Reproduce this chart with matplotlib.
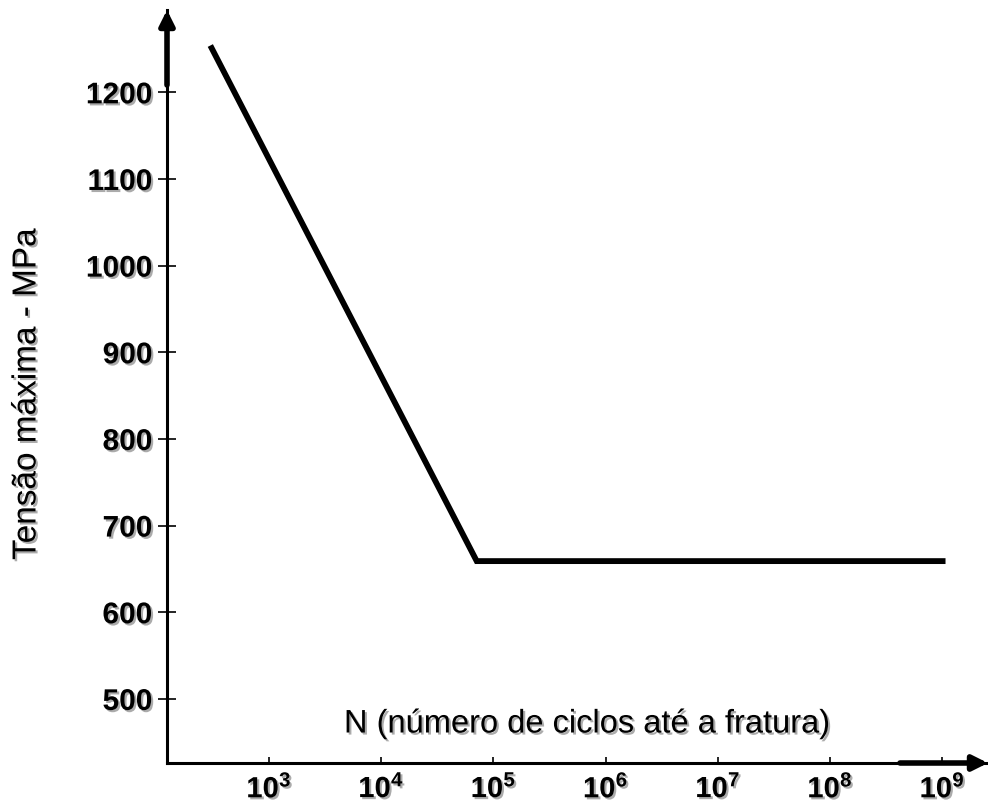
import numpy as np
import matplotlib
matplotlib.use("Agg")
import matplotlib.pyplot as plt
import matplotlib.patheffects as pe

plt.rcParams['font.family'] = ['Liberation Sans', 'DejaVu Sans']
plt.rcParams['mathtext.fontset'] = 'custom'
plt.rcParams['mathtext.rm'] = 'Liberation Sans:bold'
plt.rcParams['mathtext.bf'] = 'Liberation Sans:bold'

# curva S-N: ciclos ate a fratura x tensao maxima
ciclos = [300, 7.1e4, 1.07e9]
tensao = [1254, 659, 659]

y_ticks = [500, 600, 700, 800, 900, 1000, 1100, 1200]
x_exps = [3, 4, 5, 6, 7, 8, 9]

W, H = 988, 802
fig = plt.figure(figsize=(W / 100, H / 100), dpi=100)
ax = fig.add_axes([167 / W, (H - 763) / H, (W - 167) / W, (763 - 10) / H])

sombra = [pe.withSimplePatchShadow(offset=(1.5, -1.5), shadow_rgbFace='0.45', alpha=0.6)]

ax.plot(ciclos, tensao, color='black', lw=4.2, solid_joinstyle='miter', solid_capstyle='butt')

ax.set_xscale('log')
ax.set_xlim(10 ** 2.091, 10 ** 9.408)
ax.set_ylim(426, 1295)

for s in ['top', 'right']:
    ax.spines[s].set_visible(False)
for s in ['left', 'bottom']:
    ax.spines[s].set_linewidth(2.2)

ax.set_yticks(y_ticks)
ax.set_yticklabels([str(v) for v in y_ticks], fontsize=21.5, fontweight='bold')
ax.tick_params(axis='y', direction='inout', length=13, width=1.2, pad=4)
ax.set_xticks([10.0 ** e for e in x_exps])
ax.set_xticklabels([r'$\mathbf{10^{%d}}$' % e for e in x_exps], fontsize=21)
ax.xaxis.set_minor_locator(matplotlib.ticker.NullLocator())
ax.tick_params(axis='x', direction='in', length=4.5, width=1.2, pad=8)
for lb in ax.get_xticklabels() + ax.get_yticklabels():
    lb.set_path_effects(sombra)

# setas nas pontas dos eixos
ax.annotate('', xy=(0, 1), xytext=(0, (763 - 85) / 753), xycoords='axes fraction',
            arrowprops=dict(arrowstyle='-|>', lw=4, color='black', mutation_scale=22,
                            shrinkA=0, shrinkB=0), annotation_clip=False)
ax.annotate('', xy=(1, 0), xytext=((900 - 167) / 821, 0), xycoords='axes fraction',
            arrowprops=dict(arrowstyle='-|>', lw=4, color='black', mutation_scale=22,
                            shrinkA=0, shrinkB=0), annotation_clip=False)

fig.text(27 / W, 1 - 394 / H, 'Tensão máxima - MPa', rotation=90, fontsize=24,
         ha='center', va='center', path_effects=sombra)
fig.text(587 / W, 1 - 724 / H, 'N (número de ciclos até a fratura)', fontsize=23.5,
         ha='center', va='center', path_effects=sombra)

fig.savefig('out.png', dpi=100)
